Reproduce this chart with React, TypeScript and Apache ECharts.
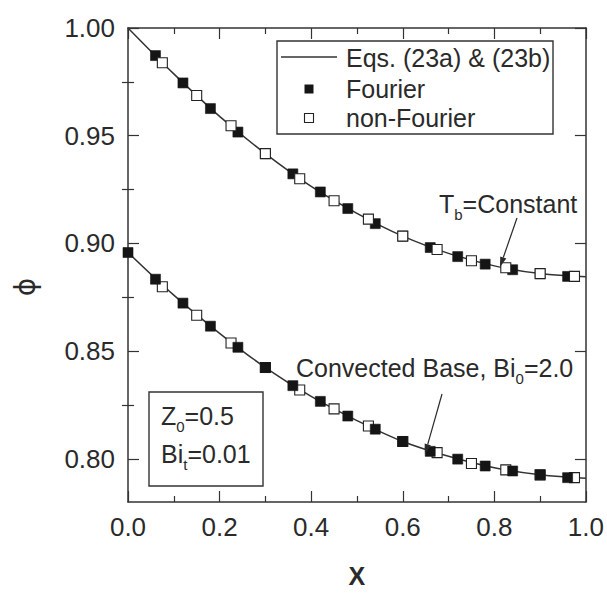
import React, { useEffect, useRef } from 'react';
import * as echarts from 'echarts';

// ---------- data ----------
const lineX = [0, 0.1, 0.2, 0.3, 0.4, 0.5, 0.6, 0.7, 0.8, 0.9, 1.0];
const lineUpper = [1.0, 0.9787, 0.959, 0.9417, 0.9265, 0.914, 0.9034, 0.8954, 0.8896, 0.886, 0.8845];
const lineLower = [0.8958, 0.876, 0.8583, 0.8424, 0.829, 0.8178, 0.8081, 0.8012, 0.7959, 0.7926, 0.791];

const fourierX = [0, 0.06, 0.12, 0.18, 0.24, 0.3, 0.36, 0.42, 0.48, 0.54, 0.6, 0.66, 0.72, 0.78, 0.84, 0.9, 0.96];
const fourierUpper = [null, 0.9872, 0.9745, 0.9626, 0.9517, 0.9417, 0.9323, 0.9239, 0.9162, 0.9092, 0.9034, 0.8981, 0.8939, 0.8904, 0.8878, 0.886, 0.8847];
const fourierLower = [0.8958, 0.8834, 0.8723, 0.8616, 0.8518, 0.8424, 0.834, 0.8267, 0.8199, 0.8138, 0.8081, 0.8035, 0.7999, 0.7967, 0.7944, 0.7926, 0.7913];

const nonFourierX = [0.075, 0.15, 0.225, 0.3, 0.375, 0.45, 0.525, 0.6, 0.675, 0.75, 0.825, 0.9, 0.975];
const nonFourierUpper = [0.9839, 0.9687, 0.9546, 0.9417, 0.93, 0.9198, 0.9113, 0.9034, 0.8972, 0.892, 0.8887, 0.886, 0.8847];
const nonFourierLower = [0.8799, 0.8667, 0.8538, 0.8424, 0.832, 0.8232, 0.8153, 0.8081, 0.8029, 0.7979, 0.7949, 0.7926, 0.7913];

const yTicks = [0.8, 0.85, 0.9, 0.95, 1.0];
const yMinorTicks = [0.825, 0.875, 0.925, 0.975];

const LINE_NAME = 'Eqs. (23a) & (23b)';
const FONT = 'Liberation Sans, Arial, Helvetica, sans-serif';
const INK = '#2a2a2a';

function pairs(xs: number[], ys: (number | null)[]) {
  const out: number[][] = [];
  xs.forEach((x, i) => {
    const y = ys[i];
    if (y != null) out.push([x, y]);
  });
  return out;
}

function arrow(x1: number, y1: number, x2: number, y2: number) {
  const dx = x2 - x1;
  const dy = y2 - y1;
  const len = Math.sqrt(dx * dx + dy * dy);
  const ux = dx / len;
  const uy = dy / len;
  const hl = 10;
  const hw = 3.2;
  const bx = x2 - ux * hl;
  const by = y2 - uy * hl;
  const px = -uy * hw;
  const py = ux * hw;
  return [
    { type: 'line', shape: { x1, y1, x2: bx, y2: by }, style: { stroke: INK, lineWidth: 1.2 }, z: 10 },
    {
      type: 'polygon',
      shape: { points: [[x2, y2], [bx + px, by + py], [bx - px, by - py]] },
      style: { fill: INK },
      z: 10,
    },
  ];
}

const sub = (main: string, s: string, rest: string) => `{n|${main}}{s|${s}}{n|${rest}}`;
const richStyle = {
  n: { fontSize: 25, lineHeight: 36, fontFamily: FONT, fill: INK, verticalAlign: 'middle' },
  s: { fontSize: 15, lineHeight: 15, fontFamily: FONT, fill: INK, verticalAlign: 'bottom' },
};

const axisLineStyle = { color: '#333', width: 1.5 };

export default function App() {
  const ref = useRef<HTMLDivElement>(null);

  useEffect(() => {
    if (!ref.current) return;
    const chart = echarts.init(ref.current, null, { renderer: 'svg' });

    const xBase = {
      type: 'value',
      min: 0,
      max: 1,
      interval: 0.2,
      axisLine: { show: true, onZero: false, lineStyle: axisLineStyle },
      axisTick: { show: true, inside: true, length: 11, lineStyle: { color: '#333', width: 1.2 } },
      minorTick: { show: true, splitNumber: 2, length: 6, lineStyle: { color: '#333', width: 1.2 } },
      splitLine: { show: false },
    };
    const yBase = {
      type: 'value',
      min: 0.78,
      max: 1.0,
      axisLine: { show: true, onZero: false, lineStyle: axisLineStyle },
      axisTick: { show: true, inside: true, length: 11, customValues: yTicks, lineStyle: { color: '#333', width: 1.2 } },
      splitLine: { show: false },
    };
    const yMinorBase = {
      type: 'value',
      min: 0.78,
      max: 1.0,
      axisLine: { show: false },
      axisTick: { show: true, inside: true, length: 6, customValues: yMinorTicks, lineStyle: { color: '#333', width: 1.2 } },
      axisLabel: { show: false },
      splitLine: { show: false },
    };

    const scatterFilled = {
      type: 'scatter',
      name: 'Fourier',
      symbol: 'rect',
      symbolSize: 10,
      itemStyle: { color: '#151515', borderColor: '#151515', borderWidth: 0.6, opacity: 1 },
    };
    const scatterOpen = {
      type: 'scatter',
      name: 'non-Fourier',
      symbol: 'rect',
      symbolSize: 10,
      itemStyle: { color: '#ffffff', borderColor: '#222', borderWidth: 1.1, opacity: 1 },
    };
    const lineBase = {
      type: 'line',
      name: LINE_NAME,
      smooth: 0.35,
      showSymbol: false,
      symbol: 'none',
      lineStyle: { color: '#333', width: 1.5 },
      z: 2,
    };

    chart.setOption({
      animation: false,
      backgroundColor: '#fff',
      textStyle: { fontFamily: FONT },
      grid: { left: 128, right: 20, top: 28, bottom: 82, containLabel: false },
      xAxis: [
        {
          ...xBase,
          position: 'bottom',
          axisLabel: {
            show: true,
            fontSize: 26,
            color: INK,
            margin: 12,
            fontFamily: FONT,
            formatter: (v: number) => v.toFixed(1),
          },
          name: 'X',
          nameLocation: 'middle',
          nameGap: 61,
          nameTextStyle: { fontSize: 25, fontWeight: 'bold', color: INK, fontFamily: FONT },
        },
        { ...xBase, position: 'top', axisLabel: { show: false } },
      ],
      yAxis: [
        {
          ...yBase,
          position: 'left',
          axisLabel: {
            show: true,
            fontSize: 26,
            color: INK,
            margin: 13,
            fontFamily: FONT,
            customValues: yTicks,
            formatter: (v: number) => v.toFixed(2),
          },
        },
        { ...yBase, position: 'right', axisLabel: { show: false } },
        { ...yMinorBase, position: 'left' },
        { ...yMinorBase, position: 'right' },
      ],
      series: [
        { ...lineBase, data: pairs(lineX, lineUpper) },
        { ...lineBase, data: pairs(lineX, lineLower) },
        { ...scatterFilled, data: pairs(fourierX, fourierUpper), z: 3 },
        { ...scatterOpen, data: pairs(nonFourierX, nonFourierUpper), z: 4 },
        { ...scatterOpen, data: pairs(nonFourierX, nonFourierLower), z: 3 },
        { ...scatterFilled, data: pairs(fourierX, fourierLower), z: 4 },
      ],
      graphic: [
        // y axis title (rotated phi)
        {
          type: 'text',
          x: 25,
          y: 287,
          rotation: Math.PI / 2,
          style: { text: '\u03d5', fontSize: 28, fontFamily: 'DejaVu Sans, ' + FONT, fill: INK, align: 'center', verticalAlign: 'middle' },
        },
        // legend box
        {
          type: 'rect',
          shape: { x: 277, y: 41, width: 276, height: 93 },
          style: { fill: '#fff', stroke: '#333', lineWidth: 1.4 },
          z: 8,
        },
        { type: 'line', shape: { x1: 281, y1: 57, x2: 337, y2: 57 }, style: { stroke: '#333', lineWidth: 1.5 }, z: 9 },
        { type: 'rect', shape: { x: 304.5, y: 84.5, width: 9, height: 9 }, style: { fill: '#151515' }, z: 9 },
        { type: 'rect', shape: { x: 304.5, y: 113.5, width: 9, height: 9 }, style: { fill: '#fff', stroke: '#222', lineWidth: 1.1 }, z: 9 },
        { type: 'text', x: 346, y: 58, style: { text: LINE_NAME, fontSize: 25, fontFamily: FONT, fill: INK, verticalAlign: 'middle' }, z: 9 },
        { type: 'text', x: 346, y: 89, style: { text: 'Fourier', fontSize: 25, fontFamily: FONT, fill: INK, verticalAlign: 'middle' }, z: 9 },
        { type: 'text', x: 346, y: 118, style: { text: 'non-Fourier', fontSize: 25, fontFamily: FONT, fill: INK, verticalAlign: 'middle' }, z: 9 },
        // parameter box
        {
          type: 'rect',
          shape: { x: 149, y: 392, width: 114, height: 94 },
          style: { fill: '#fff', stroke: '#333', lineWidth: 1.4 },
          z: 8,
        },
        { type: 'text', x: 161, y: 398, style: { text: sub('Z', '0', '=0.5'), rich: richStyle }, z: 9 },
        { type: 'text', x: 161, y: 436, style: { text: sub('Bi', 't', '=0.01'), rich: richStyle }, z: 9 },
        // annotations
        { type: 'text', x: 439, y: 186, style: { text: sub('T', 'b', '=Constant'), rich: richStyle }, z: 9 },
        ...arrow(517, 218, 500, 267),
        { type: 'text', x: 296, y: 350, style: { text: sub('Convected Base, Bi', '0', '=2.0'), rich: richStyle }, z: 9 },
        ...arrow(442, 394, 425, 454),
      ],
    } as any);

    return () => chart.dispose();
  }, []);

  return (
    <div
      ref={ref}
      style={{ position: 'absolute', left: 0, top: 0, width: 607, height: 593, background: '#fff' }}
    />
  );
}
